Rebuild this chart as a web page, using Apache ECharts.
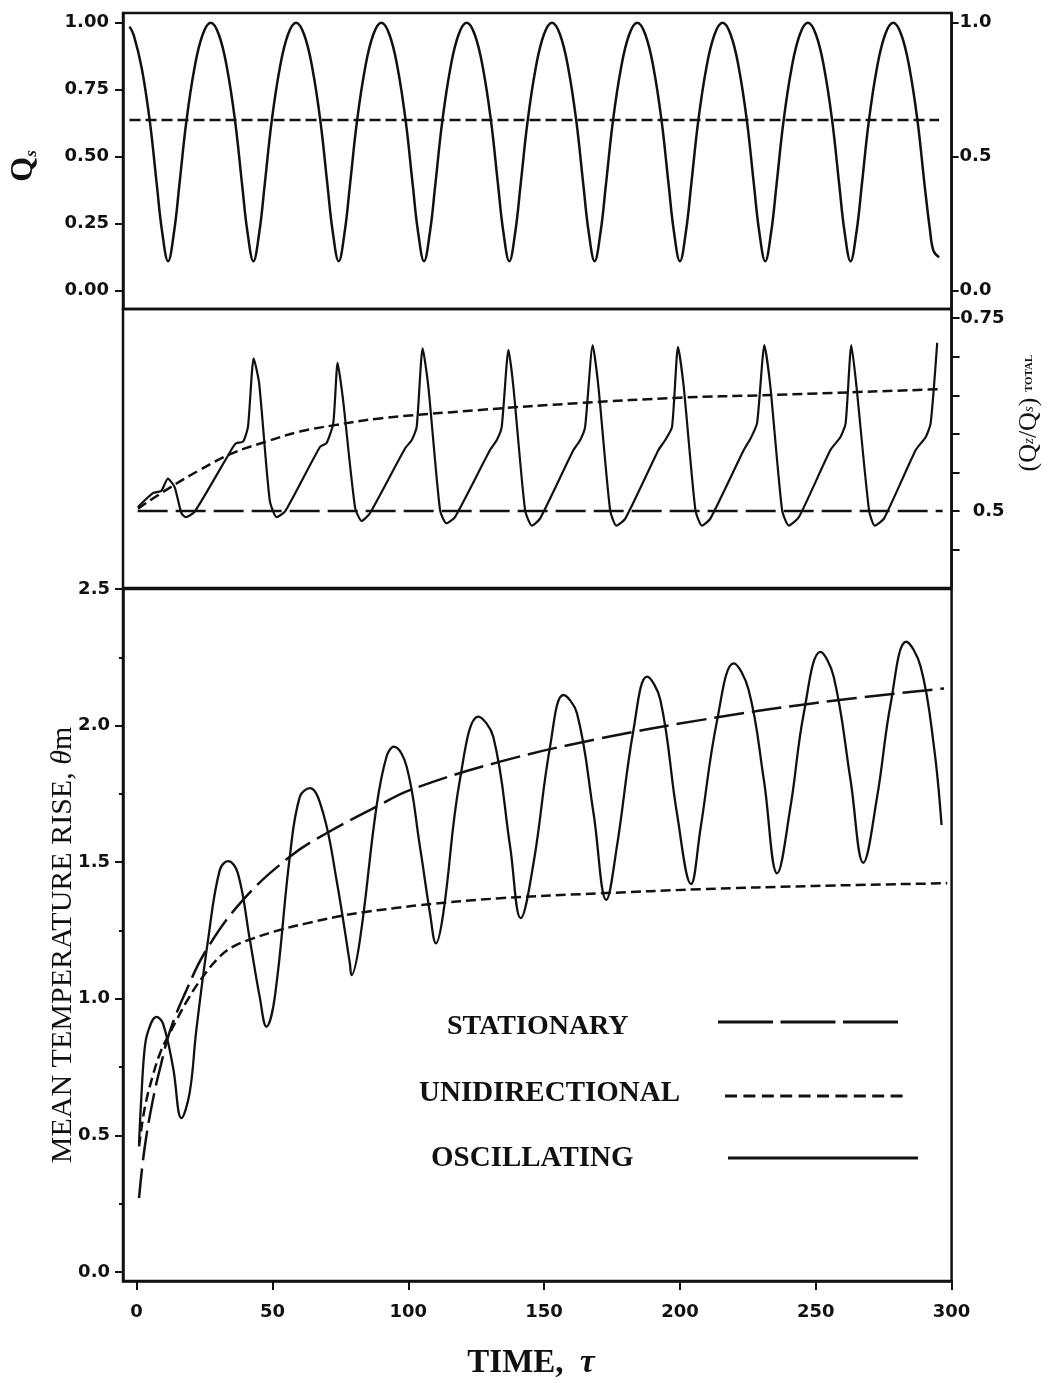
<!DOCTYPE html>
<html><head><meta charset="utf-8">
<script src="https://cdn.jsdelivr.net/npm/echarts@6/dist/echarts.min.js"></script>
<style>html,body{margin:0;padding:0;background:#fff}#c{width:1054px;height:1383px}</style>
</head><body><div id="c"></div>
<script>
// ---- tick values ----
const xTicks = [0, 50, 100, 150, 200, 250, 300];
const qsLeftTicks = [0, 0.25, 0.5, 0.75, 1];
const qsRightTicks = [0, 0.5, 1];
const ratioTicks = [0.45, 0.5, 0.55, 0.6, 0.65, 0.7, 0.75];
const ratioLabels = [0.5, 0.75];
const thetaTicks = [0, 0.5, 1, 1.5, 2, 2.5];
const thetaMinorTicks = [0.25, 0.75, 1.25, 1.75, 2.25];

// ---- top panel: surface heat flux Qs ----
const qsOscillating = [
 [-2.6,0.985],[-1.1,0.955],[1.9,0.83],[4.9,0.63],[7.4,0.40],[9.4,0.22],[11.6,0.11],[13.8,0.22],[15.8,0.40],[18.3,0.63],[21.3,0.83],[24.3,0.955],
 [27.3,1.0],[30.3,0.955],[33.3,0.83],[36.3,0.63],[38.8,0.40],[40.8,0.22],[43.0,0.11],[45.2,0.22],[47.2,0.40],[49.7,0.63],[52.7,0.83],[55.7,0.955],
 [58.7,1.0],[61.7,0.955],[64.7,0.83],[67.7,0.63],[70.2,0.40],[72.2,0.22],[74.4,0.11],[76.6,0.22],[78.6,0.40],[81.1,0.63],[84.1,0.83],[87.1,0.955],
 [90.1,1.0],[93.1,0.955],[96.1,0.83],[99.1,0.63],[101.6,0.40],[103.6,0.22],[105.8,0.11],[108.0,0.22],[110.0,0.40],[112.5,0.63],[115.5,0.83],[118.5,0.955],
 [121.5,1.0],[124.5,0.955],[127.5,0.83],[130.5,0.63],[133.0,0.40],[135.0,0.22],[137.2,0.11],[139.4,0.22],[141.4,0.40],[143.9,0.63],[146.9,0.83],[149.9,0.955],
 [152.9,1.0],[155.9,0.955],[158.9,0.83],[161.9,0.63],[164.4,0.40],[166.4,0.22],[168.6,0.11],[170.8,0.22],[172.8,0.40],[175.3,0.63],[178.3,0.83],[181.3,0.955],
 [184.3,1.0],[187.3,0.955],[190.3,0.83],[193.3,0.63],[195.8,0.40],[197.8,0.22],[200.0,0.11],[202.2,0.22],[204.2,0.40],[206.7,0.63],[209.7,0.83],[212.7,0.955],
 [215.7,1.0],[218.7,0.955],[221.7,0.83],[224.7,0.63],[227.2,0.40],[229.2,0.22],[231.4,0.11],[233.6,0.22],[235.6,0.40],[238.1,0.63],[241.1,0.83],[244.1,0.955],
 [247.1,1.0],[250.1,0.955],[253.1,0.83],[256.1,0.63],[258.6,0.40],[260.6,0.22],[262.8,0.11],[265.0,0.22],[267.0,0.40],[269.5,0.63],[272.5,0.83],[275.5,0.955],
 [278.5,1.0],[281.5,0.955],[284.5,0.83],[287.5,0.63],[290.0,0.40],[292.0,0.23],[293.3,0.15],[295.4,0.125]
];
const qsUnidirectional = [[-2.6,0.637],[295.4,0.637]];

// ---- middle panel: (Qz/Qs) total ----
const ratioStationary = [[0.4,0.5],[296.7,0.5]];
const ratioUnidirectional = [
 [0.5,0.503],[10.8,0.527],[23.2,0.553],[35.4,0.575],[47.8,0.590],[60.1,0.603],[72.4,0.611],[89.6,0.620],
 [126.4,0.631],[163.3,0.640],[200.1,0.647],[229.6,0.650],[296,0.658]
];
const ratioOscillating = [
 [0.5,0.505],[6,0.523],[9.1,0.526],[11.5,0.542],[14,0.531],[16.5,0.497],[18.1,0.492],[21.4,0.499],
 [35.5,0.583],[36.7,0.588],[39.2,0.590],[41,0.609],[43.1,0.698],[45.1,0.666],[49,0.514],[51.5,0.492],[54.6,0.499],
 [67.5,0.583],[69.9,0.588],[72.4,0.614],[74,0.692],[76,0.644],[80.4,0.505],[82.8,0.487],[85.9,0.497],
 [98.8,0.581],[101.3,0.592],[103.1,0.609],[105.3,0.711],[107.4,0.661],[111.7,0.501],[114,0.484],[117.2,0.492],
 [130.1,0.579],[132.6,0.592],[134.4,0.609],[136.9,0.709],[138.7,0.661],[143,0.501],[145.5,0.481],[148.5,0.49],
 [160.8,0.579],[163.3,0.592],[165.1,0.609],[167.9,0.715],[170,0.661],[174.3,0.501],[176.6,0.481],[179.9,0.49],
 [192.1,0.579],[194.6,0.592],[197.1,0.609],[199.3,0.713],[201.4,0.661],[205.7,0.501],[208.1,0.481],[211.2,0.49],
 [223.5,0.579],[226,0.594],[228.4,0.614],[231.1,0.715],[233.3,0.661],[237.6,0.501],[240.1,0.481],[243.8,0.492],
 [255.4,0.579],[259.1,0.596],[261,0.614],[263.1,0.715],[265,0.661],[269.6,0.501],[271.7,0.481],[275.1,0.49],
 [286.8,0.579],[290.5,0.596],[292.3,0.614],[294.7,0.718]
];

// ---- bottom panel: mean temperature rise ----
const thetaStationary = [
 [0.9,0.27],[2.9,0.45],[6,0.63],[9,0.76],[12.2,0.88],[18.3,1.03],[25.7,1.179],[39.2,1.362],[56.4,1.52],[69.9,1.606],
 [88.3,1.703],[100.6,1.764],[133.8,1.868],[170.7,1.953],[207.5,2.02],[249.3,2.082],[297.2,2.136]
];
const thetaUnidirectional = [
 [0.9,0.46],[3,0.6],[6,0.72],[9,0.81],[12,0.87],[14.6,0.92],[19,1.0],[24.4,1.081],[30.6,1.154],[35.5,1.191],
 [42.9,1.221],[52.7,1.252],[62.5,1.276],[73.6,1.3],[84.7,1.319],[94.5,1.331],[104.3,1.343],[133.8,1.368],
 [170.7,1.386],[207.5,1.401],[249.3,1.413],[298.4,1.423]
];
const thetaOscillating = [
 [0.9,0.47],[1.7,0.63],[2.9,0.81],[4.2,0.88],[7.3,0.934],[9.7,0.91],[13.4,0.75],[16.5,0.563],[19.5,0.654],[22,0.886],
 [26.3,1.215],[30.6,1.471],[33.7,1.504],[37.3,1.459],[41.7,1.215],[45.3,1.008],[47.8,0.898],[50.9,1.008],[56.4,1.52],
 [60.1,1.74],[63.8,1.771],[68.7,1.679],[73.6,1.435],[78.5,1.13],[79.1,1.087],[82.2,1.215],[88.3,1.703],[92,1.886],
 [94.7,1.923],[99.4,1.85],[104.3,1.557],[108,1.313],[110.2,1.203],[112.9,1.313],[119,1.801],[125.8,2.033],[131.3,1.959],
 [137.5,1.557],[141.4,1.295],[146.1,1.496],[152.2,1.923],[157.1,2.112],[162.1,2.045],[168.2,1.679],[172.9,1.362],
 [176.8,1.557],[182.9,1.984],[187.9,2.179],[192.8,2.094],[198.9,1.679],[204.1,1.42],[207.5,1.618],[213.7,2.02],
 [219.8,2.228],[225.3,2.13],[230.9,1.801],[235.8,1.459],[240.7,1.703],[245.6,2.045],[251.7,2.27],[256.6,2.179],
 [262.8,1.801],[267.5,1.498],[272.6,1.74],[277.6,2.082],[283.3,2.307],[288.6,2.216],[293.5,1.923],[296.3,1.636]
];

const INK = '#111';
const numFont = {fontFamily:'DejaVu Sans', fontWeight:'bold', fontSize:18, color:INK};
const gridBase = {left:123, right:102.4, show:true, borderColor:INK, borderWidth:2.5, backgroundColor:'transparent'};
const lineBase = {type:'line', showSymbol:false, symbol:'none', animation:false};
const ls = (w, t) => ({color:INK, width:w, type:t});
const axLine = {show:true, onZero:false, lineStyle:{color:INK, width:2.5}};

const chart = echarts.init(document.getElementById('c'), null, {renderer:'canvas'});
chart.setOption({
 animation:false,
 backgroundColor:'#fff',
 grid:[
  Object.assign({top:13, height:296}, gridBase),
  Object.assign({top:309, height:279}, gridBase),
  Object.assign({top:589, height:692}, gridBase)
 ],
 xAxis:[
  {type:'value', gridIndex:0, min:-5, max:300, show:false, axisLine:{onZero:false}},
  {type:'value', gridIndex:1, min:-5, max:300, show:false, axisLine:{onZero:false}},
  {type:'value', gridIndex:2, min:-5, max:300, position:'bottom',
   axisLine:axLine,
   axisTick:{customValues:xTicks, length:9, lineStyle:{color:INK, width:2}},
   axisLabel:Object.assign({customValues:xTicks, margin:22}, numFont),
   splitLine:{show:false}}
 ],
 yAxis:[
  {type:'value', gridIndex:0, position:'left', min:-0.068, max:1.036,
   axisLine:axLine,
   axisTick:{customValues:qsLeftTicks, length:8, lineStyle:{color:INK, width:2}},
   axisLabel:Object.assign({customValues:qsLeftTicks, margin:14, formatter:v=>v.toFixed(2)}, numFont),
   splitLine:{show:false}},
  {type:'value', gridIndex:0, position:'right', min:-0.068, max:1.036,
   axisLine:axLine,
   axisTick:{customValues:qsRightTicks, length:7, lineStyle:{color:INK, width:2}},
   axisLabel:Object.assign({customValues:qsRightTicks, margin:8, formatter:v=>v.toFixed(1)}, numFont),
   splitLine:{show:false}},
  {type:'value', gridIndex:1, position:'right', min:0.4, max:0.762,
   axisLine:axLine,
   axisTick:{customValues:ratioTicks, length:8, lineStyle:{color:INK, width:2}},
   axisLabel:Object.assign({customValues:ratioLabels, margin:53, align:'right', formatter:v=>(v===0.75?'0.75':'0.5')}, numFont),
   splitLine:{show:false}},
  {type:'value', gridIndex:2, position:'left', min:-0.033, max:2.5,
   axisLine:axLine,
   axisTick:{customValues:thetaTicks, length:8, lineStyle:{color:INK, width:2}},
   axisLabel:Object.assign({customValues:thetaTicks, margin:13, formatter:v=>v.toFixed(1)}, numFont),
   splitLine:{show:false}},
  {type:'value', gridIndex:2, position:'left', min:-0.033, max:2.5,
   axisLine:{show:false, onZero:false},
   axisTick:{customValues:thetaMinorTicks, length:4, lineStyle:{color:INK, width:2}},
   axisLabel:{show:false},
   splitLine:{show:false}}
 ],
 series:[
  Object.assign({name:'Qs oscillating', xAxisIndex:0, yAxisIndex:0, smooth:0.4, data:qsOscillating, lineStyle:ls(2.5,'solid')}, lineBase),
  Object.assign({name:'Qs unidirectional', xAxisIndex:0, yAxisIndex:0, data:qsUnidirectional, lineStyle:ls(2.5,[11,5])}, lineBase),
  Object.assign({name:'ratio stationary', xAxisIndex:1, yAxisIndex:2, data:ratioStationary, lineStyle:ls(2.5,[30,8])}, lineBase),
  Object.assign({name:'ratio unidirectional', xAxisIndex:1, yAxisIndex:2, smooth:0.4, data:ratioUnidirectional, lineStyle:ls(2.5,[10,5])}, lineBase),
  Object.assign({name:'ratio oscillating', xAxisIndex:1, yAxisIndex:2, smooth:0.2, data:ratioOscillating, lineStyle:ls(2.2,'solid')}, lineBase),
  Object.assign({name:'STATIONARY', xAxisIndex:2, yAxisIndex:3, smooth:0.4, data:thetaStationary, lineStyle:ls(2.5,[30,8])}, lineBase),
  Object.assign({name:'UNIDIRECTIONAL', xAxisIndex:2, yAxisIndex:3, smooth:0.4, data:thetaUnidirectional, lineStyle:ls(2.5,[10,5])}, lineBase),
  Object.assign({name:'OSCILLATING', xAxisIndex:2, yAxisIndex:3, smooth:0.4, data:thetaOscillating, lineStyle:ls(2.3,'solid')}, lineBase)
 ],
 graphic:[
  {type:'text', x:24, y:166, rotation:Math.PI/2, style:{text:'{q|Q}{s|s}', align:'center', verticalAlign:'middle', textAlign:'center', textVerticalAlign:'middle',
    rich:{q:{fontFamily:'Liberation Serif', fontWeight:'bold', fontSize:32, fill:INK}, s:{fontFamily:'Liberation Serif', fontStyle:'italic', fontWeight:'bold', fontSize:17, fill:INK, verticalAlign:'bottom', padding:[12,0,0,0]}}}},
  {type:'text', x:63, y:945, rotation:Math.PI/2, style:{text:'{t|MEAN TEMPERATURE RISE, }{g|θ}{t|m}', align:'center', verticalAlign:'middle', textAlign:'center', textVerticalAlign:'middle',
    rich:{t:{fontFamily:'Liberation Serif', fontSize:30, fill:INK}, g:{fontFamily:'Liberation Serif', fontStyle:'italic', fontSize:30, fill:INK}}}},
  {type:'text', x:1029, y:413, rotation:Math.PI/2, style:{text:'{a|(Q}{b|z}{a|/Q}{b|s}{a|)}{c|  TOTAL}', align:'center', verticalAlign:'middle', textAlign:'center', textVerticalAlign:'middle',
    rich:{a:{fontFamily:'Liberation Serif', fontSize:26, fill:INK}, b:{fontFamily:'Liberation Serif', fontStyle:'italic', fontSize:15, fill:INK}, c:{fontFamily:'Liberation Serif', fontWeight:'bold', fontSize:11, fill:INK}}}},
  {type:'text', x:531, y:1363, style:{text:'{t|TIME,  }{g|τ}', align:'center', verticalAlign:'middle', textAlign:'center', textVerticalAlign:'middle',
    rich:{t:{fontFamily:'Liberation Serif', fontWeight:'bold', fontSize:33, fill:INK}, g:{fontFamily:'Liberation Serif', fontWeight:'bold', fontStyle:'italic', fontSize:33, fill:INK}}}},
  {type:'text', x:447, y:1027, style:{text:'STATIONARY', fontFamily:'Liberation Serif', fontWeight:'bold', fontSize:28, fill:INK, align:'left', verticalAlign:'middle', textAlign:'left', textVerticalAlign:'middle'}},
  {type:'text', x:419, y:1094, style:{text:'UNIDIRECTIONAL', fontFamily:'Liberation Serif', fontWeight:'bold', fontSize:29, fill:INK, align:'left', verticalAlign:'middle', textAlign:'left', textVerticalAlign:'middle'}},
  {type:'text', x:431, y:1159, style:{text:'OSCILLATING', fontFamily:'Liberation Serif', fontWeight:'bold', fontSize:29, fill:INK, align:'left', verticalAlign:'middle', textAlign:'left', textVerticalAlign:'middle'}},
  {type:'line', shape:{x1:718, y1:1022, x2:898, y2:1022}, style:{stroke:INK, lineWidth:3, lineDash:[55,7.5]}},
  {type:'line', shape:{x1:725, y1:1096, x2:904, y2:1096}, style:{stroke:INK, lineWidth:3, lineDash:[12,6.4]}},
  {type:'line', shape:{x1:728, y1:1158, x2:918, y2:1158}, style:{stroke:INK, lineWidth:3}}
 ]
});
</script></body></html>
